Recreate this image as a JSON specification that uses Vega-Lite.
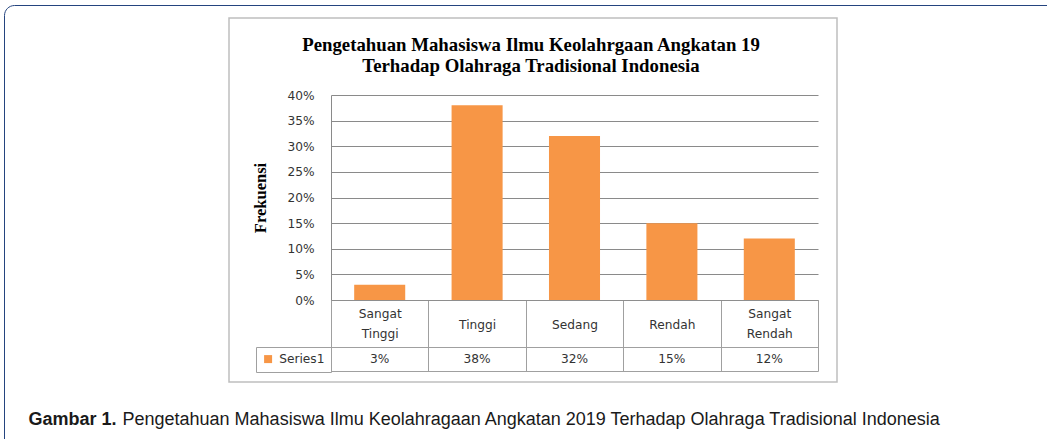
{
  "$schema": "https://vega.github.io/schema/vega-lite/v6.json",
  "width": 608,
  "height": 364,
  "autosize": {"type": "none"},
  "padding": {"left": 229, "top": 18, "right": 210, "bottom": 57},
  "background": "white",
  "title": {
    "text": ["Pengetahuan Mahasiswa Ilmu Keolahrgaan Angkatan 19", "Terhadap Olahraga Tradisional Indonesia"],
    "anchor": "middle",
    "frame": "group",
    "orient": "top",
    "font": "Liberation Serif",
    "fontSize": 18.8,
    "fontWeight": "bold",
    "color": "#000000",
    "lineHeight": 21,
    "offset": -71,
    "dx": -2
  },
  "data": {
    "values": [
      {"category": "Sangat Tinggi", "value": 0.03, "series": "Series1"},
      {"category": "Tinggi", "value": 0.38, "series": "Series1"},
      {"category": "Sedang", "value": 0.32, "series": "Series1"},
      {"category": "Rendah", "value": 0.15, "series": "Series1"},
      {"category": "Sangat Rendah", "value": 0.12, "series": "Series1"}
    ]
  },
  "layer": [
    {
      "mark": {"type": "bar", "width": {"band": 0.524}},
      "encoding": {
        "x": {
          "field": "category",
          "type": "nominal",
          "sort": null,
          "scale": {"type": "band", "range": [102, 589], "paddingInner": 0, "paddingOuter": 0},
          "axis": {
            "orient": "bottom",
            "offset": -82,
            "labelAngle": 0,
            "labelExpr": "split(datum.label, ' ')",
            "labelBaseline": "middle",
            "labelLineHeight": 20,
            "labelPadding": {"condition": {"test": "indexof(datum.label, ' ') >= 0", "value": -57.5}, "value": -47},
            "labelFont": "DejaVu Sans",
            "labelFontSize": 12.2,
            "labelColor": "#333333",
            "ticks": true,
            "tickBand": "extent",
            "tickSize": 71,
            "tickColor": "#A0A0A0",
            "tickWidth": 1,
            "domain": true,
            "domainColor": "#8E8E8E",
            "grid": false,
            "title": "Pengetahuan Mahasiswa Ilmu Keolahragaan Angkatan 2019 Terhadap Olahraga Tradisional Indonesia",
            "titleFont": "Liberation Sans",
            "titleFontSize": 18,
            "titleFontWeight": "normal",
            "titleColor": "#1A1A1A",
            "titleX": -107,
            "titleY": 124,
            "titleAlign": "left",
            "titleBaseline": "alphabetic",
            "titleLimit": 2000
          }
        },
        "y": {
          "field": "value",
          "type": "quantitative",
          "scale": {"domain": [0, 0.4], "range": [282, 77], "nice": false, "zero": true},
          "axis": {
            "orient": "left",
            "offset": -102,
            "format": ".0%",
            "values": [0, 0.05, 0.1, 0.15, 0.2, 0.25, 0.3, 0.35, 0.4],
            "grid": true,
            "gridColor": "#8A8A8A",
            "gridWidth": 1,
            "domain": true,
            "domainColor": "#8A8A8A",
            "ticks": false,
            "labelPadding": 17,
            "labelFont": "DejaVu Sans",
            "labelFontSize": 12.2,
            "labelColor": "#333333",
            "title": "Frekuensi",
            "titleFont": "Liberation Serif",
            "titleFontSize": 16.5,
            "titleFontWeight": "bold",
            "titleColor": "#000000",
            "titleAngle": -90,
            "titleX": -71,
            "titleY": 179.5,
            "titleAlign": "center",
            "titleBaseline": "middle"
          }
        },
        "color": {
          "field": "series",
          "type": "nominal",
          "scale": {"range": ["#F79646"]},
          "legend": {
            "orient": "none",
            "legendX": 27,
            "legendY": 329,
            "title": null,
            "padding": 6,
            "strokeColor": "#A0A0A0",
            "symbolType": "square",
            "symbolSize": 64,
            "symbolStrokeWidth": 0,
            "labelFont": "DejaVu Sans",
            "labelFontSize": 12.2,
            "labelColor": "#333333",
            "labelOffset": 5
          }
        }
      }
    },
    {
      "mark": {"type": "text", "font": "DejaVu Sans", "fontSize": 12.2, "color": "#333333", "align": "center", "baseline": "middle"},
      "encoding": {
        "x": {"field": "category", "type": "nominal", "sort": null},
        "y": {
          "field": "series",
          "type": "nominal",
          "scale": {"type": "band", "range": [329, 353], "paddingInner": 0, "paddingOuter": 0},
          "axis": {
            "orient": "left",
            "offset": -102,
            "domain": false,
            "ticks": false,
            "labels": false,
            "grid": true,
            "tickBand": "extent",
            "gridColor": "#A0A0A0",
            "gridWidth": 1,
            "title": "Gambar 1.",
            "titleFont": "Liberation Sans",
            "titleFontWeight": "bold",
            "titleFontSize": 18,
            "titleColor": "#1A1A1A",
            "titleAngle": 0,
            "titleAlign": "left",
            "titleBaseline": "alphabetic",
            "titleX": -303,
            "titleY": 406,
            "titleLimit": 500
          }
        },
        "text": {"field": "value", "type": "quantitative", "format": ".0%"},
        "opacity": {
          "field": "category",
          "type": "ordinal",
          "sort": null,
          "scale": {"range": [1, 1]},
          "legend": {
            "orient": "none",
            "legendX": -225,
            "legendY": -13,
            "padding": 700,
            "title": null,
            "labelExpr": "''",
            "symbolSize": 0,
            "symbolOpacity": 0,
            "strokeColor": "#24447F",
            "cornerRadius": 10,
            "encode": {"legend": {"update": {"strokeWidth": {"value": 2.5}}}}
          }
        }
      }
    }
  ],
  "resolve": {"scale": {"y": "independent"}, "axis": {"y": "independent"}},
  "config": {
    "view": {"stroke": "#BEBEBE", "strokeWidth": 1.5}
  }
}
